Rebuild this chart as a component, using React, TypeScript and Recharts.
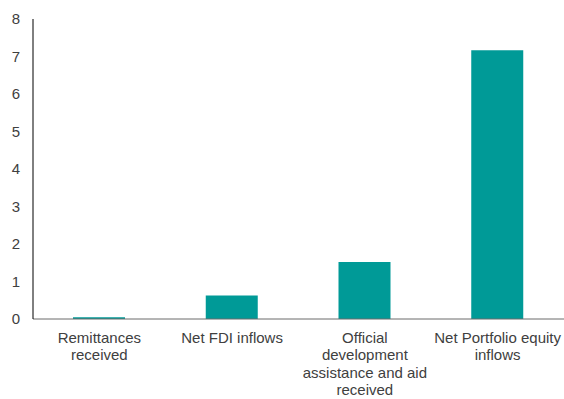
import React from "react";
import { BarChart, Bar, XAxis, YAxis } from "recharts";

const categories = [
  "Remittances\nreceived",
  "Net FDI inflows",
  "Official\ndevelopment\nassistance and aid\nreceived",
  "Net Portfolio equity\ninflows",
];
const values = [0.05, 0.63, 1.52, 7.17];
const yTicks = [0, 1, 2, 3, 4, 5, 6, 7, 8];

const data = categories.map((c, i) => ({ name: c, value: values[i] }));

const FONT = "'Liberation Sans', Arial, sans-serif";
const TEXT_COLOR = "#404040";

const XTick = (props: any) => {
  const { x, y, payload } = props;
  const lines = String(payload.value).split("\n");
  return (
    <text x={x} y={y + 16} textAnchor="middle" fill={TEXT_COLOR} fontSize={15} fontFamily={FONT}>
      {lines.map((l, i) => (
        <tspan key={i} x={x} dy={i === 0 ? 0 : 17.4}>
          {l}
        </tspan>
      ))}
    </text>
  );
};

const YTick = (props: any) => {
  const { x, y, payload } = props;
  return (
    <text x={x - 5} y={y + 5} textAnchor="end" fill={TEXT_COLOR} fontSize={15} fontFamily={FONT}>
      {payload.value}
    </text>
  );
};

export default function App() {
  return (
    <div style={{ position: "absolute", left: 0, top: 0, width: 564, height: 399, background: "#fff" }}>
      <BarChart width={564} height={399} data={data} margin={{ top: 19, right: 0, bottom: 0, left: 0 }}>
        <XAxis
          dataKey="name"
          interval={0}
          tickLine={false}
          axisLine={{ stroke: "#6b6b6b", strokeWidth: 1 }}
          tick={<XTick />}
          height={80}
        />
        <YAxis
          domain={[0, 8]}
          ticks={yTicks}
          width={33}
          tickLine={false}
          axisLine={{ stroke: "#000000", strokeWidth: 1 }}
          tick={<YTick />}
          interval={0}
        />
        <Bar dataKey="value" fill="#009a97" barSize={52} isAnimationActive={false} />
      </BarChart>
    </div>
  );
}
